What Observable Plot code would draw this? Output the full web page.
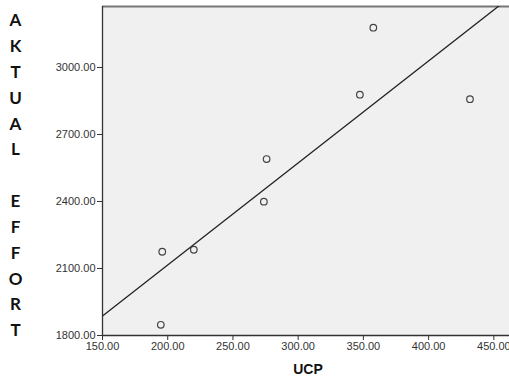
<!DOCTYPE html>
<html>
<head>
<meta charset="utf-8">
<script src="https://cdn.jsdelivr.net/npm/d3@7"></script>
<script src="https://cdn.jsdelivr.net/npm/@observablehq/plot@0.6"></script>
<style>
  html, body { margin: 0; padding: 0; background: #fff; }
  #chart svg { display: block; }
</style>
</head>
<body>
<div id="chart"></div>
<script>
const ucp = [194.7, 195.8, 220.0, 273.7, 275.8, 347.3, 357.6, 431.7];
const effort = [1848, 2175, 2184, 2399, 2590, 2878, 3178, 2858];
const xTicks = [150, 200, 250, 300, 350, 400, 450];
const yTicks = [1800, 2100, 2400, 2700, 3000];
const xDomain = [150, 462];
const yDomain = [1800, 3273];
const yLabel = "A\nK\nT\nU\nA\nL\n\nE\nF\nF\nO\nR\nT";
const xLabel = "UCP";

const points = ucp.map((x, i) => ({x, y: effort[i]}));

// least squares fit from the data
const mx = d3.mean(ucp), my = d3.mean(effort);
const sxy = d3.sum(points, d => (d.x - mx) * (d.y - my));
const sxx = d3.sum(points, d => (d.x - mx) ** 2);
const slope = sxy / sxx;
const intercept = my - slope * mx;
const fitLine = xDomain.map(x => ({x, y: intercept + slope * x}));

const chart = Plot.plot({
  width: 509,
  height: 379,
  marginTop: 6,
  marginLeft: 102,
  marginRight: 0,
  marginBottom: 44,
  style: {fontFamily: "'Liberation Sans', Arial, sans-serif", fontSize: "11px", color: "#333", background: "#fff"},
  x: {domain: xDomain, ticks: xTicks, tickFormat: d => d.toFixed(2), label: null},
  y: {domain: yDomain, ticks: yTicks, tickFormat: d => d.toFixed(2), label: null},
  marks: [
    Plot.frame({fill: "#f0f0f0", stroke: "none"}),
    Plot.ruleY([yDomain[1]], {stroke: "#777", strokeWidth: 2}),
    Plot.line(fitLine, {x: "x", y: "y", stroke: "#222", strokeWidth: 1.3, clip: true}),
    Plot.dot(points, {x: "x", y: "y", r: 3.3, stroke: "#444", strokeWidth: 1.2, fill: "none"}),
    Plot.axisX({ticks: xTicks, tickFormat: d => d.toFixed(2), tickSize: 5, tickPadding: 2, label: null, fill: "#333"}),
    Plot.axisY({ticks: yTicks, tickFormat: d => d.toFixed(2), tickSize: 5, tickPadding: 2, label: null, fill: "#333"}),
    Plot.ruleX([xDomain[0]], {stroke: "#333", strokeWidth: 1.3}),
    Plot.ruleY([yDomain[0]], {stroke: "#333", strokeWidth: 1.3}),
    Plot.text([xLabel], {frameAnchor: "bottom", dx: 2, dy: 38, text: d => d, fontWeight: "bold", fontSize: 14, fill: "#111"}),
    Plot.text([yLabel], {frameAnchor: "left", dx: -87, dy: 2, text: d => d, textAnchor: "middle", lineHeight: 1.52, fontWeight: "bold", fontSize: 17, fontFamily: "Lato, 'Open Sans', sans-serif", fill: "#111"})
  ]
});
document.getElementById("chart").appendChild(chart);
</script>
</body>
</html>
